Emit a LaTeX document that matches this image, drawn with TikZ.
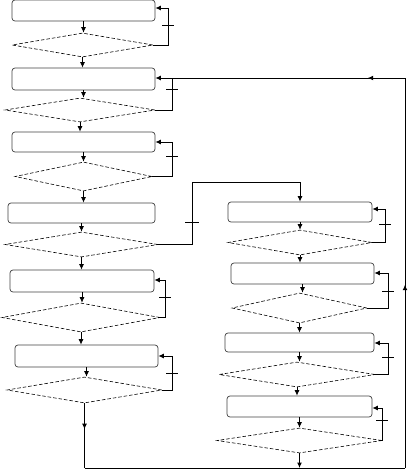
\documentclass[tikz,border=0pt]{standalone}
\usetikzlibrary{shapes.geometric,arrows.meta,decorations.markings}
\begin{document}
\begin{tikzpicture}[x=1pt,y=-1pt,
  boxnode/.style={draw=black!75,rounded corners=3pt,line width=0.7pt,inner sep=0pt},
  dnode/.style={draw=black,diamond,dash pattern=on 3.5pt off 2pt,line width=0.6pt,inner sep=0pt},
  tip/.tip={Latex[length=5.5pt,width=5pt]},
  arr/.style={-tip,line width=0.8pt},
  loopline/.style={-tip,line width=1pt},
  conn/.style={line width=1pt},
  midarr/.style={postaction={decorate},decoration={markings,mark=at position #1 with {\arrow{Latex[length=5.5pt,width=5pt]}}}}
]
\useasboundingbox (0,0) rectangle (409,472);
% left column
\node[boxnode,minimum width=143pt,minimum height=21pt] (b1) at (83.5,10.5) {};
\node[dnode,minimum width=141pt,minimum height=24pt] (d1) at (82.5,45) {};
\node[boxnode,minimum width=143pt,minimum height=22pt] (b2) at (83.5,79) {};
\node[dnode,minimum width=150pt,minimum height=24pt] (d2) at (80,110) {};
\node[boxnode,minimum width=143pt,minimum height=20pt] (b3) at (83.5,142) {};
\node[dnode,minimum width=137pt,minimum height=29pt] (d3) at (83.5,176.5) {};
\node[boxnode,minimum width=147pt,minimum height=20pt] (b4) at (81.5,213) {};
\node[dnode,minimum width=153pt,minimum height=25pt] (d4) at (81.5,244.5) {};
\node[boxnode,minimum width=144pt,minimum height=22pt] (b5) at (82,281) {};
\node[dnode,minimum width=158pt,minimum height=29pt] (d5) at (81,317.5) {};
\node[boxnode,minimum width=143pt,minimum height=22pt] (b6) at (86.5,356) {};
\node[dnode,minimum width=155pt,minimum height=26pt] (d6) at (84.5,390) {};
% right column
\node[boxnode,minimum width=144pt,minimum height=20pt] (r1) at (300,212) {};
\node[dnode,minimum width=144pt,minimum height=25pt] (e1) at (300,242.5) {};
\node[boxnode,minimum width=143pt,minimum height=21pt] (r2) at (302.5,273.5) {};
\node[dnode,minimum width=135pt,minimum height=30pt] (e2) at (299.5,308) {};
\node[boxnode,minimum width=149pt,minimum height=19pt] (r3) at (299.5,342.5) {};
\node[dnode,minimum width=156pt,minimum height=25pt] (e3) at (297,374.5) {};
\node[boxnode,minimum width=145pt,minimum height=21pt] (r4) at (299.5,406.5) {};
\node[dnode,minimum width=165pt,minimum height=25pt] (e4) at (299.5,440.5) {};
% vertical flow arrows
\foreach \a/\b in {b1/d1,d1/b2,b2/d2,d2/b3,b3/d3,d3/b4,b4/d4,d4/b5,b5/d5,d5/b6,b6/d6,r1/e1,e1/r2,r2/e2,e2/r3,r3/e3,e3/r4,r4/e4}
  \draw[arr] (\a.south) -- (\a.south |- \b.north);
% feedback loops
\foreach \d/\b/\lx/\ly/\ty in {d1/b1/168/8/25, d2/b2/172/78/89, d3/b3/172/142/156, d5/b5/165/280/297, d6/b6/172/356/373, e1/r1/385/209/224, e2/r2/388/273/291, e3/r3/388/343/357, e4/r4/382/408/420}{
  \coordinate (lb) at (\lx,\ly);
  \draw[loopline] (\d.east) -| (lb) -- (lb -| \b.east);
  \draw[line width=0.7pt] (\lx-6,\ty) -- (\lx+6,\ty);
}
% branch from d4 to right column
\coordinate (k1) at (192,182);
\coordinate (k2) at (300,182);
\draw[conn,-tip] (d4.east) -| (k1) -- (k2) -- (r1.north);
\draw[line width=0.7pt] (185,222) -- (199,222);
% return loop
\coordinate (bl) at (84.5,468);
\coordinate (br) at (405,468);
\coordinate (tr) at (405,78);
\coordinate (tl) at (172,78);
\draw[conn,midarr=0.4] (d6.south) -- (bl);
\draw[conn] (bl) -- (br);
\draw[conn,midarr=0.47] (br) -- (tr);
\draw[conn,midarr=0.16] (tr) -- (tl);
\draw[arr,line width=1pt] (e4.south) -- (e4.south |- br);
\end{tikzpicture}
\end{document}
